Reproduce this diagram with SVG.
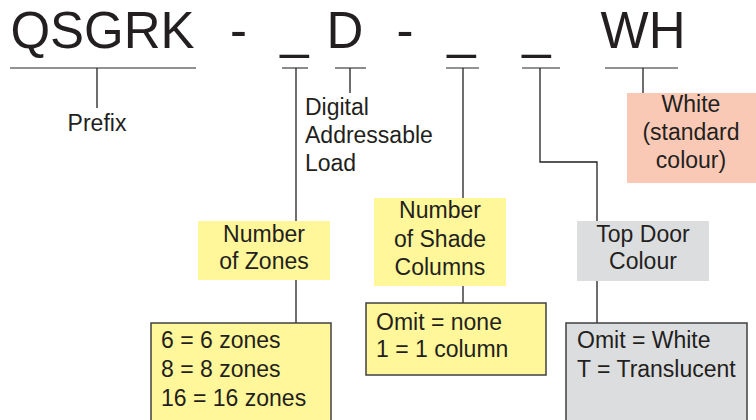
<svg xmlns="http://www.w3.org/2000/svg" width="756" height="420" viewBox="0 0 756 420">
<style>
text{font-family:"Liberation Sans",Arial,sans-serif;fill:#231f20}
.t{font-size:51px;text-anchor:middle}
.l{font-size:23px}
.c{font-size:23px;text-anchor:middle}
.ul{stroke:#6d6e71;stroke-width:1.6;fill:none}
.ln{stroke:#231f20;stroke-width:1.3;fill:none}
.y{fill:#fff799}
.s{fill:#f9c9b6}
.g{fill:#dcdddf}
.bx{stroke:#414042;stroke-width:1.5}
</style>
<rect width="756" height="420" fill="#fff"/>
<g id="code">
<text class="t" x="102.5" y="48">QSGRK</text>
<text class="t" x="238.5" y="48">-</text>
<text class="t" x="294.5" y="48">_</text>
<text class="t" x="345" y="48">D</text>
<text class="t" x="405" y="48">-</text>
<text class="t" x="461.5" y="48">_</text>
<text class="t" x="536.5" y="48">_</text>
<text class="t" x="643" y="48">WH</text>
</g>
<g id="connectors">
<line class="ul" x1="10" y1="68" x2="196" y2="68"/>
<line class="ul" x1="282" y1="68" x2="308" y2="68"/>
<line class="ul" x1="335" y1="68" x2="366" y2="68"/>
<line class="ul" x1="446" y1="68" x2="479" y2="68"/>
<line class="ul" x1="522" y1="68" x2="560" y2="68"/>
<line class="ul" x1="605" y1="68" x2="678" y2="68"/>
<line class="ln" x1="97" y1="68" x2="97" y2="108"/>
<line class="ln" x1="350" y1="68" x2="350" y2="93"/>
<line class="ln" x1="643" y1="68" x2="643" y2="93"/>
<line class="ln" x1="296" y1="68" x2="296" y2="323"/>
<line class="ln" x1="463" y1="68" x2="463" y2="303"/>
<polyline class="ln" points="540,68 540,162 597,162 597,323"/>
</g>
<g id="prefix">
<text class="c" x="97" y="131">Prefix</text>
</g>
<g id="digital">
<text class="l" x="305" y="115">Digital</text>
<text class="l" x="305" y="143">Addressable</text>
<text class="l" x="305" y="171">Load</text>
</g>
<g id="white">
<rect class="s" x="627" y="93" width="129" height="90"/>
<text class="c" x="691" y="112">White</text>
<text class="c" x="691" y="140">(standard</text>
<text class="c" x="691" y="168">colour)</text>
</g>
<g id="zones-title">
<rect class="y" x="198" y="221" width="132" height="59"/>
<text class="c" x="264" y="242">Number</text>
<text class="c" x="264" y="269">of Zones</text>
</g>
<g id="zones-options">
<rect class="y bx" x="151" y="323" width="180" height="110"/>
<text class="l" x="161" y="348">6 = 6 zones</text>
<text class="l" x="161" y="377">8 = 8 zones</text>
<text class="l" x="161" y="406">16 = 16 zones</text>
</g>
<g id="shade-title">
<rect class="y" x="374" y="198" width="132" height="88"/>
<text class="c" x="440" y="218">Number</text>
<text class="c" x="440" y="247">of Shade</text>
<text class="c" x="440" y="275">Columns</text>
</g>
<g id="shade-options">
<rect class="y bx" x="366" y="303" width="180" height="72"/>
<text class="l" x="376" y="330">Omit = none</text>
<text class="l" x="376" y="357">1 = 1 column</text>
</g>
<g id="door-title">
<rect class="g" x="577" y="221" width="132" height="60"/>
<text class="c" x="643" y="242">Top Door</text>
<text class="c" x="643" y="269">Colour</text>
</g>
<g id="door-options">
<rect class="g bx" x="566" y="323" width="181" height="110"/>
<text class="l" x="577" y="348">Omit = White</text>
<text class="l" x="577" y="377">T = Translucent</text>
</g>
</svg>
